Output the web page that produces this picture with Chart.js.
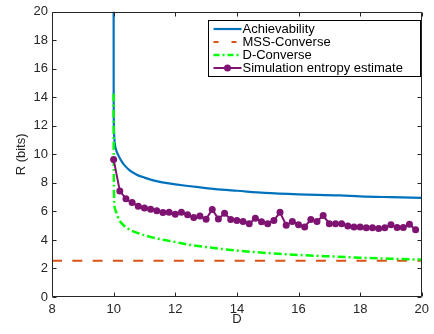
<!DOCTYPE html>
<html><head><meta charset="utf-8">
<script src="https://cdn.jsdelivr.net/npm/chart.js@4.4.1/dist/chart.umd.min.js"></script>
<style>html,body{margin:0;padding:0;background:#fff;}canvas{display:block;}</style>
</head><body>
<canvas id="c" width="434" height="334"></canvas>
<script>
const xTicks = [8, 10, 12, 14, 16, 18, 20];
const yTicks = [0, 2, 4, 6, 8, 10, 12, 14, 16, 18, 20];
const seriesNames = ['Achievability', 'MSS-Converse', 'D-Converse', 'Simulation entropy estimate'];

const achD = [10, 10.002, 10.01, 10.03, 10.07, 10.15, 10.25, 10.35, 10.5, 10.75, 11, 11.2, 11.5, 11.75, 12, 12.35, 12.75, 13.5, 14, 14.9, 16, 17.35, 18, 19, 20];
const achR = [20.5, 14, 11.8, 10.9, 10.4, 9.95, 9.55, 9.25, 8.92, 8.58, 8.37, 8.23, 8.07, 7.98, 7.9, 7.8, 7.7, 7.53, 7.45, 7.3, 7.2, 7.13, 7.06, 7.0, 6.95];

const mssD = [8, 20];
const mssR = [2.55, 2.55];

const dcD = [10, 10.003, 10.01, 10.02, 10.05, 10.09, 10.18, 10.25, 10.4, 10.57, 10.8, 11, 11.3, 11.65, 12, 12.4, 13, 13.5, 14, 15, 16, 17, 18, 19, 20];
const dcR = [14.25, 10, 7.6, 6.6, 6.15, 5.9, 5.4, 5.2, 4.88, 4.67, 4.47, 4.33, 4.15, 4.0, 3.86, 3.68, 3.5, 3.37, 3.26, 3.08, 2.95, 2.85, 2.76, 2.68, 2.62];

const simD = [10, 10.2, 10.4, 10.6, 10.8, 11, 11.2, 11.4, 11.6, 11.8, 12, 12.2, 12.4, 12.6, 12.8, 13, 13.2, 13.4, 13.6, 13.8, 14, 14.2, 14.4, 14.6, 14.8, 15, 15.2, 15.4, 15.6, 15.8, 16, 16.2, 16.4, 16.6, 16.8, 17, 17.2, 17.4, 17.6, 17.8, 18, 18.2, 18.4, 18.6, 18.8, 19, 19.2, 19.4, 19.6, 19.8];
const simR = [9.65, 7.44, 6.89, 6.62, 6.37, 6.25, 6.15, 6.05, 5.93, 5.94, 5.8, 5.94, 5.76, 5.57, 5.68, 5.46, 6.14, 5.47, 5.87, 5.44, 5.37, 5.3, 5.14, 5.53, 5.28, 5.14, 5.37, 5.94, 5.03, 5.3, 5.07, 4.91, 5.44, 5.3, 5.71, 5.14, 5.14, 5.14, 4.98, 4.91, 4.91, 4.85, 4.85, 4.8, 4.85, 5.07, 4.87, 4.87, 5.1, 4.72];

const pts = (xs, ys) => xs.map((v, i) => ({x: v, y: ys[i]}));
const FONT = '"Liberation Sans", Arial, Helvetica, sans-serif';
const AX = '#262626';

const frameAndLegend = {
  id: 'frameAndLegend',
  afterDraw(chart) {
    const {ctx, chartArea: a, scales: {x, y}} = chart;
    ctx.save();
    ctx.strokeStyle = AX;
    ctx.lineWidth = 1;
    const L = Math.round(a.left) + 0.5, R = Math.round(a.right) - 0.5;
    const T = Math.round(a.top) + 0.5, B = Math.round(a.bottom) - 0.5;
    ctx.beginPath();
    ctx.rect(L, T, R - L, B - T);
    const tl = 4;
    xTicks.forEach(v => {
      const px = Math.round(x.getPixelForValue(v)) + 0.5;
      ctx.moveTo(px, B); ctx.lineTo(px, B - tl);
      ctx.moveTo(px, T); ctx.lineTo(px, T + tl);
    });
    yTicks.forEach(v => {
      const py = Math.round(y.getPixelForValue(v)) + 0.5;
      ctx.moveTo(L, py); ctx.lineTo(L + tl, py);
      ctx.moveTo(R, py); ctx.lineTo(R - tl, py);
    });
    ctx.stroke();

    // legend
    const lx = Math.round(a.right) - 214 + 0.5, ly = Math.round(a.top) + 8 + 0.5;
    const lw = 212, lh = 56;
    ctx.fillStyle = '#fff';
    ctx.fillRect(lx, ly, lw, lh);
    ctx.strokeStyle = '#000';
    ctx.lineWidth = 1;
    ctx.strokeRect(lx, ly, lw, lh);
    ctx.font = '13px ' + FONT;
    ctx.textBaseline = 'middle';
    ctx.textAlign = 'left';
    chart.data.datasets.forEach((ds, i) => {
      const cy = ly + 8.5 + 13 * i;
      const x0 = lx + 5, x1 = lx + 33;
      ctx.save();
      ctx.strokeStyle = ds.borderColor;
      ctx.lineWidth = ds.borderWidth;
      ctx.setLineDash(ds.legendDash || ds.borderDash || []);
      ctx.beginPath(); ctx.moveTo(x0, cy); ctx.lineTo(x1, cy); ctx.stroke();
      ctx.restore();
      if (ds.pointRadius > 0) {
        ctx.beginPath();
        ctx.fillStyle = ds.pointBackgroundColor;
        ctx.arc((x0 + x1) / 2, cy, ds.pointRadius, 0, Math.PI * 2);
        ctx.fill();
      }
      ctx.fillStyle = '#000';
      ctx.fillText(ds.label, lx + 34, cy + 0.5);
    });
    ctx.restore();
  }
};

new Chart(document.getElementById('c'), {
  type: 'line',
  data: {
    datasets: [
      {label: seriesNames[0], data: pts(achD, achR), borderColor: '#0072BD', borderWidth: 2.2, pointRadius: 0, cubicInterpolationMode: 'monotone', order: 4},
      {label: seriesNames[1], data: pts(mssD, mssR), borderColor: '#D95319', borderWidth: 2, borderDash: [10, 10.3], legendDash: [5, 13], pointRadius: 0, order: 3},
      {label: seriesNames[2], data: pts(dcD, dcR), borderColor: '#00FF00', borderWidth: 2.5, borderDash: [8, 3, 2, 3], legendDash: [6, 3, 2, 3], pointRadius: 0, cubicInterpolationMode: 'monotone', order: 2},
      {label: seriesNames[3], data: pts(simD, simR), borderColor: '#7E1371', borderWidth: 2, pointRadius: 3.5, pointBackgroundColor: '#7E1371', pointBorderColor: '#7E1371', pointBorderWidth: 0, tension: 0, order: 1}
    ]
  },
  options: {
    responsive: false,
    animation: false,
    devicePixelRatio: 1,
    events: [],
    layout: {padding: {top: 4, right: 10, left: 0, bottom: 0}},
    plugins: {legend: {display: false}, tooltip: {enabled: false}},
    scales: {
      x: {
        type: 'linear', min: 8, max: 20,
        afterBuildTicks: s => { s.ticks = xTicks.map(v => ({value: v})); },
        afterFit: s => { s.height = 37; },
        grid: {display: false, drawTicks: false, tickLength: 0},
        border: {display: false},
        ticks: {color: AX, font: {family: FONT, size: 13}, padding: 5, maxRotation: 0, autoSkip: false},
        title: {display: true, text: 'D', color: AX, font: {family: FONT, size: 13}, padding: {top: 0, bottom: 7}}
      },
      y: {
        type: 'linear', min: 0, max: 20,
        afterBuildTicks: s => { s.ticks = yTicks.map(v => ({value: v})); },
        afterFit: s => { s.width = 52; },
        grid: {display: false, drawTicks: false, tickLength: 0},
        border: {display: false},
        ticks: {color: AX, font: {family: FONT, size: 13}, padding: 4, autoSkip: false},
        title: {display: true, text: 'R (bits)', color: AX, font: {family: FONT, size: 13}, padding: {top: 14, bottom: 0}}
      }
    }
  },
  plugins: [frameAndLegend]
});
</script>
</body></html>
